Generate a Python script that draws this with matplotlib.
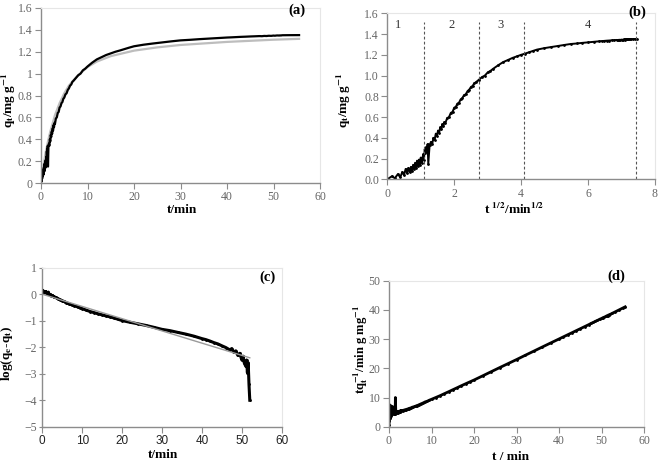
import numpy as np
import matplotlib
matplotlib.use('Agg')
import matplotlib.pyplot as plt

plt.rcParams['font.family'] = ['Liberation Serif', 'DejaVu Serif']
plt.rcParams['mathtext.fontset'] = 'stix'

# measured uptake q_t (mg/g) vs time (min)
t_min = [0, 0.02, 0.05, 0.1, 0.15, 0.2, 0.25, 0.3, 0.35, 0.4, 0.45, 0.5, 0.55, 0.6, 0.65,
         0.7, 0.75, 0.8, 0.85, 0.9, 0.95, 1.0, 1.05, 1.1, 1.15, 1.2, 1.25, 1.3, 1.35, 1.4,
         1.45, 1.5, 1.6, 1.7, 1.8, 1.9, 2.0, 2.1, 2.2, 2.3, 2.4, 2.5, 2.6, 2.7, 2.8, 2.9,
         3.0, 3.2, 3.4, 3.6, 3.8, 4.0, 4.2, 4.4, 4.6, 4.8, 5.0, 5.25, 5.5, 5.75, 6.0, 6.25,
         6.5, 6.75, 7.0, 7.5, 8.0, 8.5, 9.0, 9.5, 10, 11, 12, 13, 14, 15, 16, 17, 18, 19,
         20, 22, 24, 26, 28, 30, 32, 34, 36, 38, 40, 41, 42, 43, 44, 45, 46, 47, 47.5, 48,
         48.5, 49, 49.5, 50, 50.3, 50.6, 51, 51.2, 51.4, 51.6, 51.8, 52, 52.5, 53, 54, 55, 55.5]
q_t = [0.0, 0.03, 0.01, 0.05, 0.02, 0.07, 0.04, 0.10, 0.06, 0.11, 0.07, 0.12, 0.08, 0.14, 0.10,
       0.16, 0.11, 0.18, 0.13, 0.19, 0.14, 0.21, 0.16, 0.20, 0.24, 0.19, 0.29, 0.25, 0.31, 0.27,
       0.34, 0.15, 0.33, 0.36, 0.34, 0.40, 0.38, 0.44, 0.42, 0.47, 0.45, 0.50, 0.48, 0.53, 0.51, 0.55,
       0.54, 0.59, 0.60, 0.64, 0.65, 0.69, 0.70, 0.73, 0.74, 0.77, 0.78, 0.81, 0.82, 0.85, 0.865, 0.89,
       0.90, 0.925, 0.935, 0.96, 0.985, 1.00, 1.03, 1.045, 1.065, 1.10, 1.13, 1.15, 1.17, 1.185, 1.20, 1.212, 1.225, 1.238,
       1.250, 1.264, 1.275, 1.285, 1.295, 1.304, 1.309, 1.315, 1.320, 1.325, 1.330, 1.3318, 1.3340, 1.3362, 1.3378, 1.3398, 1.3414, 1.3432, 1.3422, 1.3447,
       1.3438, 1.3462, 1.3452, 1.3478, 1.3465, 1.3485, 1.3492, 1.3478, 1.3500, 1.3485, 1.3507, 1.3510, 1.3512, 1.3515, 1.3518, 1.3520, 1.3522]
q_e = 1.3511

# model curve in (a)
fit_t = [0, 0.5, 1, 1.5, 2, 3, 4, 5, 6, 7, 8, 10, 12, 15, 20, 25, 30, 40, 50, 55.5]
fit_q = [0, 0.15, 0.28, 0.38, 0.47, 0.62, 0.73, 0.82, 0.89, 0.94, 0.985, 1.06, 1.11, 1.16,
         1.21, 1.24, 1.262, 1.29, 1.31, 1.318]

# linear fit in (c)
lin_t = [0, 52]
lin_log = [0.0, -2.4]

# stage boundaries in (b)
stage_x = [1.10, 2.73, 4.09, 7.44]
stage_lbl = ['1', '2', '3', '4']
stage_lbl_x = [0.33, 1.92, 3.37, 5.99]

t = np.array(t_min)
q = np.array(q_t)
with np.errstate(divide='ignore', invalid='ignore'):
    log_diff = np.log10(q_e - q)
    t_over_q = t / q

W, H = 659, 462
fig = plt.figure(figsize=(W / 100, H / 100), dpi=100)

def box(l, r, top, bot):
    return [l / W, 1 - bot / H, (r - l) / W, (bot - top) / H]

tick_col = '#666666'
spine_col = '#8c8c8c'


def style(ax, ydir='out'):
    for s in ['top', 'right']:
        ax.spines[s].set_color('#e6e6e6')
        ax.spines[s].set_linewidth(0.8)
    for s in ['left', 'bottom']:
        ax.spines[s].set_color(spine_col)
        ax.spines[s].set_linewidth(1.0)
    ax.tick_params(axis='x', direction='out', length=4, color=spine_col,
                   labelcolor=tick_col, labelsize=8.5, pad=2)
    ax.tick_params(axis='y', direction=ydir, length=4, color=spine_col,
                   labelcolor=tick_col, labelsize=8.5, pad=2)


# (a)
ax = fig.add_axes(box(41, 320, 8, 183))
ax.plot(fit_t, fit_q, color='#bdbdbd', lw=1.6)
ax.plot(t, q, color='black', lw=1.6)
ax.set_xlim(0, 60)
ax.set_ylim(0, 1.6)
ax.set_xticks(range(0, 61, 10))
ax.set_yticks([0, 0.2, 0.4, 0.6, 0.8, 1.0, 1.2, 1.4, 1.6])
ax.set_yticklabels(['0', '0.2', '0.4', '0.6', '0.8', '1', '1.2', '1.4', '1.6'])
style(ax)
fig.text(297 / W, 1 - 10 / H, '(a)', fontsize=10.5, fontweight='bold', ha='center', va='center')
fig.text(182 / W, 1 - 210 / H, 't/min', fontsize=9.5, fontweight='bold', ha='center', va='center')
fig.text(9 / W, 1 - 100 / H, r'q$_\mathbf{t}$/mg g$^{\mathbf{-1}}$', fontsize=9.5,
         fontweight='bold', rotation=90, ha='center', va='center')

# (b)
ax = fig.add_axes(box(387.3, 655, 13.3, 179.3))
ax.plot(np.sqrt(t), q, color='black', lw=1.4, marker='.', ms=2)
for xs in stage_x:
    ax.plot([xs, xs], [0, 1.52], color='#555555', lw=0.8, ls=(0, (2.5, 2)))
for lx, lb in zip(stage_lbl_x, stage_lbl):
    ax.text(lx, 1.49, lb, fontsize=9, ha='center', va='center', color='#333333')
ax.set_xlim(0, 8)
ax.set_ylim(0, 1.6)
ax.set_xticks(range(0, 9, 2))
ax.set_yticks(np.arange(0, 1.61, 0.2))
ax.set_yticklabels(['%.1f' % v for v in np.arange(0, 1.61, 0.2)])
style(ax)
fig.text(637 / W, 1 - 12 / H, '(b)', fontsize=10.5, fontweight='bold', ha='center', va='center')
fig.text(514 / W, 1 - 209 / H, r't $^{\mathbf{1/2}}$/min$^{\mathbf{1/2}}$', fontsize=9.5,
         fontweight='bold', ha='center', va='center')
fig.text(344 / W, 1 - 100 / H, r'q$_\mathbf{t}$/mg g$^{\mathbf{-1}}$', fontsize=9.5,
         fontweight='bold', rotation=90, ha='center', va='center')

# (c)
ax = fig.add_axes(box(42.3, 281.7, 267.7, 426.7))
ax.plot(t, log_diff, color='black', lw=2.2, marker='.', ms=2)
ax.plot(lin_t, lin_log, color='#9a9a9a', lw=1.0)
ax.set_xlim(0, 60)
ax.set_ylim(-5, 1)
ax.set_xticks(range(0, 61, 10))
ax.set_yticks(range(-5, 2))
style(ax, ydir='inout')
for lb in ax.get_xticklabels():
    lb.set_family('Liberation Sans')
    lb.set_color('#222222')
    lb.set_fontsize(8.5)
fig.text(268 / W, 1 - 277 / H, '(c)', fontsize=10.5, fontweight='bold', ha='center', va='center')
fig.text(163 / W, 1 - 455 / H, 't/min', fontsize=9.5, fontweight='bold', ha='center', va='center')
fig.text(7 / W, 1 - 353 / H, r'log(q$_\mathbf{e}$-q$_\mathbf{t}$)', fontsize=9.5,
         fontweight='bold', rotation=90, ha='center', va='center')

# (d)
ax = fig.add_axes(box(389, 644.3, 280.7, 426.7))
ax.plot(t, t_over_q, color='black', lw=2.0, marker='.', ms=2)
ax.set_xlim(0, 60)
ax.set_ylim(0, 50)
ax.set_xticks(range(0, 61, 10))
ax.set_yticks(range(0, 51, 10))
style(ax)
fig.text(616 / W, 1 - 276 / H, '(d)', fontsize=10.5, fontweight='bold', ha='center', va='center')
fig.text(511 / W, 1 - 457 / H, 't / min', fontsize=9.5, fontweight='bold', ha='center', va='center')
fig.text(361 / W, 1 - 350 / H, r'tq$_\mathbf{t}^{\mathbf{-1}}$/min g mg$^{\mathbf{-1}}$', fontsize=9,
         fontweight='bold', rotation=90, ha='center', va='center')

fig.savefig('out.png', dpi=100)
